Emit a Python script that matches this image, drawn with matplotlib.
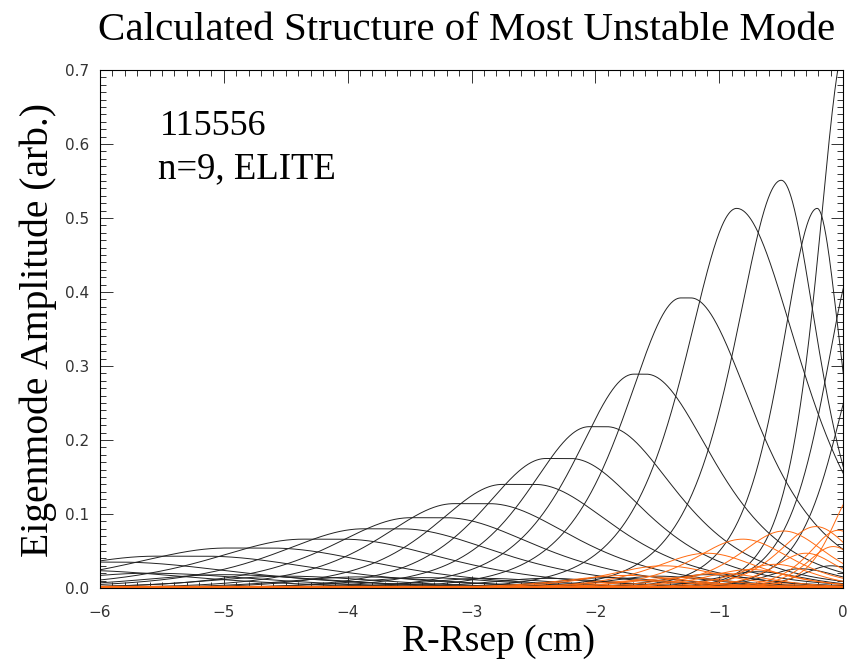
import numpy as np
import matplotlib.pyplot as plt
from matplotlib.ticker import MultipleLocator

# main harmonics (black): peak position, peak height, left / right width, flat top half width (cm)
black_c = [-6.05, -5.35, -4.8, -4.2, -3.72, -3.35, -3.0, -2.62, -2.3, -1.98,
           -1.64, -1.27, -0.86, -0.50, -0.21, 0.03, 0.12, 0.2]
black_h = [0.035, 0.043, 0.054, 0.066, 0.080, 0.095, 0.114, 0.140, 0.175, 0.218,
           0.289, 0.392, 0.513, 0.551, 0.513, 0.74, 0.45, 0.33]
black_wl = [0.9, 0.85, 0.8, 0.75, 0.7, 0.65, 0.6, 0.56, 0.52, 0.5,
            0.48, 0.46, 0.42, 0.38, 0.3, 0.24, 0.28, 0.28]
black_wr = [1.0, 0.95, 0.9, 0.85, 0.8, 0.75, 0.7, 0.65, 0.6, 0.57,
            0.55, 0.52, 0.52, 0.3, 0.2, 0.2, 0.2, 0.2]
black_f = [0.2, 0.2, 0.18, 0.16, 0.15, 0.14, 0.14, 0.13, 0.1, 0.07,
           0.05, 0.04, 0.0, 0.0, 0.0, 0.0, 0.0, 0.0]

# low amplitude black harmonics crowding the baseline
low_c = [-6.2, -5.6, -5.0, -4.5, -3.9, -3.4, -2.9, -2.4, -1.9, -1.5, -1.1, -0.7, -0.35, -0.1]
low_h = [0.024, 0.02, 0.018, 0.016, 0.015, 0.014, 0.013, 0.013, 0.014, 0.016, 0.018, 0.022, 0.026, 0.03]
low_w = [0.8, 0.75, 0.7, 0.65, 0.6, 0.55, 0.5, 0.47, 0.44, 0.4, 0.37, 0.33, 0.28, 0.24]

# orange harmonics
orange_c = [-1.75, -1.45, -1.1, -0.81, -0.48, -0.22, -0.04, 0.1,
            -1.6, -1.3, -1.0, -0.75, -0.55, -0.3, -0.08]
orange_h = [0.017, 0.03, 0.047, 0.066, 0.077, 0.083, 0.078, 0.13,
            0.01, 0.014, 0.02, 0.025, 0.032, 0.047, 0.056]
orange_w = [0.5, 0.46, 0.43, 0.4, 0.36, 0.3, 0.24, 0.2,
            0.45, 0.42, 0.4, 0.36, 0.32, 0.27, 0.22]

x = np.linspace(-6, 0, 1500)


def bump(c, h, wl, wr, f=0.0):
    d = np.maximum(np.abs(x - c) - f, 0)
    w = np.where(x < c, wl, wr)
    return h / np.cosh(d / w) ** 1.2


fig = plt.figure(figsize=(8.56, 6.70), dpi=100)
ax = fig.add_axes([0.1168, 0.1224, 0.8682, 0.7731])

for c, h, w in zip(low_c, low_h, low_w):
    ax.plot(x, bump(c, h, w, w * 1.2), color="#222222", lw=0.7)
for c, h, wl, wr, f in zip(black_c, black_h, black_wl, black_wr, black_f):
    ax.plot(x, bump(c, h, wl, wr, f), color="#222222", lw=0.7)
for c, h, w in zip(orange_c, orange_h, orange_w):
    ax.plot(x, bump(c, h, w, w), color="#ff6a10", lw=0.7)
ax.axhline(0.001, color="#ff6a10", lw=2.5)

ax.set_xlim(-6, 0)
ax.set_ylim(0, 0.7)
ax.xaxis.set_major_locator(MultipleLocator(1))
ax.xaxis.set_minor_locator(MultipleLocator(0.1))
ax.yaxis.set_major_locator(MultipleLocator(0.1))
ax.yaxis.set_minor_locator(MultipleLocator(0.01))
ax.yaxis.set_major_formatter(plt.FormatStrFormatter("%.1f"))
ax.tick_params(which="both", direction="in", top=True, right=True,
               colors="#333333", labelsize=11, width=0.7)
ax.tick_params(which="major", length=9)
ax.tick_params(axis="x", which="major", pad=12)
ax.tick_params(axis="y", which="major", pad=8)
ax.tick_params(which="minor", length=4.5)
for s in ax.spines.values():
    s.set_linewidth(0.8)

serif = "Liberation Serif"
fig.text(0.545, 0.955, "Calculated Structure of Most Unstable Mode",
         ha="center", va="center", family=serif, fontsize=29.5)
fig.text(0.582, 0.043, "R-Rsep (cm)", ha="center", va="center",
         family=serif, fontsize=27)
fig.text(0.045, 0.507, "Eigenmode Amplitude (arb.)", ha="center", va="center",
         rotation=90, family=serif, fontsize=28.5)
ax.text(0.081, 0.875, "115556", transform=ax.transAxes, family=serif, fontsize=26)
ax.text(0.078, 0.792, "n=9, ELITE", transform=ax.transAxes, family=serif, fontsize=26.5)

fig.savefig("out.png", dpi=100)
